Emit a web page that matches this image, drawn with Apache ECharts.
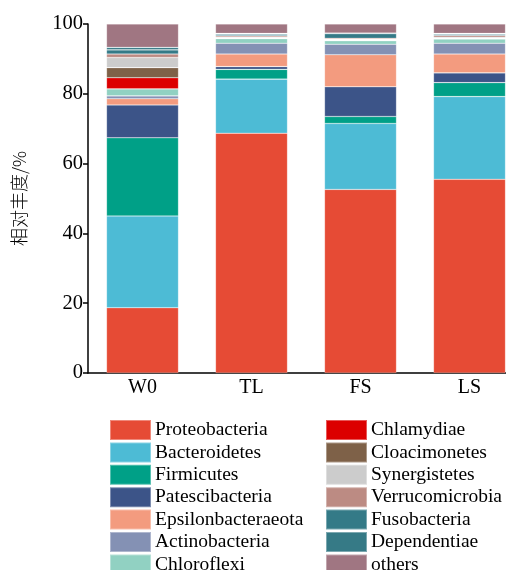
<!DOCTYPE html>
<html>
<head>
<meta charset="utf-8">
<script src="https://cdn.jsdelivr.net/npm/echarts@6/dist/echarts.min.js"></script>
<style>html,body{margin:0;padding:0;background:#fff;overflow:hidden;width:506px;height:570px}#c{width:524px;height:570px}</style>
</head>
<body>
<div id="c"></div>
<script>
const categories = ['W0', 'TL', 'FS', 'LS'];
const yTicks = [0, 20, 40, 60, 80, 100];
const phyla = ['Proteobacteria','Bacteroidetes','Firmicutes','Patescibacteria','Epsilonbacteraeota','Actinobacteria','Chloroflexi','Chlamydiae','Cloacimonetes','Synergistetes','Verrucomicrobia','Fusobacteria','Dependentiae','others'];
const Proteobacteria     = [18.7, 68.7, 52.6, 55.5];
const Bacteroidetes      = [26.3, 15.5, 18.9, 23.7];
const Firmicutes         = [22.4, 2.8, 2.0, 4.0];
const Patescibacteria    = [9.4, 0.8, 8.5, 2.8];
const Epsilonbacteraeota = [1.8, 3.6, 9.2, 5.4];
const Actinobacteria     = [0.8, 3.1, 3.0, 3.1];
const Chloroflexi        = [2.0, 1.3, 1.0, 1.2];
const Chlamydiae         = [3.2, 0.1, 0.1, 0.1];
const Cloacimonetes      = [2.9, 0.1, 0.1, 0.1];
const Synergistetes      = [2.9, 0.2, 0.2, 0.3];
const Verrucomicrobia    = [1.0, 0.4, 0.3, 0.5];
const Fusobacteria       = [1.2, 0.5, 1.3, 0.4];
const Dependentiae       = [0.7, 0.2, 0.2, 0.2];
const others             = [6.7, 2.7, 2.6, 2.7];
const seriesValues = [Proteobacteria,Bacteroidetes,Firmicutes,Patescibacteria,Epsilonbacteraeota,Actinobacteria,Chloroflexi,Chlamydiae,Cloacimonetes,Synergistetes,Verrucomicrobia,Fusobacteria,Dependentiae,others];
const colors = ['#E64B35','#4DBBD5','#00A087','#3C5488','#F39B7F','#8491B4','#91D1C2','#DC0000','#7E6148','#CCCCCC','#BC8B83','#347A87','#367A86','#A07682'];

const serif = '"Liberation Serif", "Times New Roman", serif';
const chart = echarts.init(document.getElementById('c'), null, {renderer: 'canvas'});
const legendCommon = {
  orient: 'vertical', itemWidth: 41, itemHeight: 20, itemGap: 0.4,
  icon: 'rect', selectedMode: false, height: 200, width: 200, padding: 0,
  textStyle: {fontFamily: serif, fontSize: 19.5, color: '#000', lineHeight: 18, padding: [0, 0, 0, -1]}
};
chart.setOption({
  animation: false,
  color: colors,
  grid: {left: 88, top: 24, bottom: 197, right: 0, containLabel: false},
  legend: [
    Object.assign({left: 109, top: 419, data: phyla.slice(0, 7)}, legendCommon),
    Object.assign({left: 325, top: 419, data: phyla.slice(7)}, legendCommon)
  ],
  xAxis: {
    type: 'category', data: categories,
    axisLine: {lineStyle: {color: '#000', width: 1.5}},
    axisTick: {show: false},
    axisLabel: {color: '#000', fontFamily: serif, fontSize: 20, margin: 5}
  },
  yAxis: {
    type: 'value', min: yTicks[0], max: yTicks[yTicks.length - 1], interval: 20,
    name: '相对丰度/%', nameLocation: 'middle', nameGap: 60, nameRotate: 90,
    nameTextStyle: {color: '#000', fontFamily: '"Noto Sans CJK SC", ' + serif, fontSize: 18, fontWeight: 300},
    axisLine: {show: true, lineStyle: {color: '#000', width: 1.5}},
    axisTick: {show: true, length: 5, lineStyle: {color: '#000', width: 1.5}},
    axisLabel: {color: '#000', fontFamily: serif, fontSize: 20.5, margin: 5},
    splitLine: {show: false}
  },
  series: phyla.map((n, i) => ({
    name: n, type: 'bar', stack: 'all', barWidth: 72, data: seriesValues[i],
    itemStyle: {color: colors[i], borderColor: 'rgba(255,255,255,0.35)', borderWidth: 0.6}
  }))
});
</script>
</body>
</html>
